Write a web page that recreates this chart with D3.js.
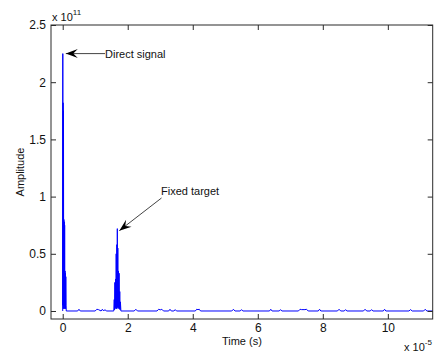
<!DOCTYPE html>
<html>
<head>
<meta charset="utf-8">
<script src="https://cdn.jsdelivr.net/npm/d3@7/dist/d3.min.js"></script>
<style>
  html, body { margin: 0; padding: 0; background: #fff; }
  svg { display: block; font-family: "Liberation Sans", Arial, sans-serif; }
</style>
</head>
<body>
<svg id="chart" width="436" height="352"></svg>
<script>
// Time in units of 1e-5 s, amplitude in units of 1e11
const directTime = [0, 0.003, 0.006, 0.012, 0.018, 0.024, 0.030, 0.036, 0.042, 0.048, 0.054, 0.060, 0.066, 0.072, 0.078, 0.084, 0.090, 0.096, 0.102, 0.110];
const directAmp  = [0, 2.25, 0.05, 1.82, 0.02, 1.75, 0.05, 0.8, 0.02, 0.78, 0.05, 0.75, 0.02, 0.35, 0.05, 0.33, 0.02, 0.3, 0.05, 0];

const targetTime = [1.57, 1.585, 1.595, 1.605, 1.615, 1.625, 1.635, 1.645, 1.655, 1.665, 1.675, 1.68, 1.685, 1.695, 1.705, 1.715, 1.725, 1.735, 1.745, 1.755, 1.765, 1.775, 1.79];
const targetAmp  = [0, 0.1, 0.01, 0.25, 0.02, 0.28, 0.03, 0.5, 0.02, 0.58, 0.05, 0.72, 0.03, 0.55, 0.02, 0.35, 0.03, 0.33, 0.02, 0.17, 0.01, 0.08, 0];

const clutterTime = [0.46, 0.5, 0.54, 1.0, 1.05, 1.1, 1.18, 1.22, 1.26, 1.3, 1.34, 2.2, 2.25, 2.3,
  2.9, 2.95, 3.0, 3.05, 3.1, 3.26, 3.3, 3.34, 3.42, 3.46, 3.5, 4.08, 4.12, 4.16, 4.2, 4.24,
  5.2, 5.25, 5.3, 5.46, 5.5, 5.54, 6.36, 6.4, 6.44, 6.66, 6.7, 6.74, 7.25, 7.3, 7.35, 7.45, 7.5, 7.55,
  7.86, 7.9, 7.94, 8.45, 8.5, 8.55, 8.66, 8.7, 8.74, 9.25, 9.3, 9.35, 9.46, 9.5, 9.54,
  9.86, 9.9, 9.94, 10.65, 10.7, 10.75, 11.1, 11.15, 11.2, 11.5];
const clutterAmp  = [0, 0.015, 0, 0, 0.015, 0.012, 0, 0.015, 0, 0.012, 0, 0, 0.015, 0,
  0, 0.015, 0.01, 0.015, 0, 0, 0.015, 0, 0, 0.012, 0, 0, 0.015, 0.012, 0.015, 0,
  0, 0.015, 0, 0, 0.012, 0, 0, 0.015, 0, 0, 0.012, 0, 0, 0.015, 0.012, 0.012, 0.015, 0,
  0, 0.015, 0, 0, 0.015, 0, 0, 0.012, 0, 0, 0.015, 0, 0, 0.012, 0,
  0, 0.015, 0, 0, 0.012, 0, 0, 0.015, 0, 0];

const xTicks = [0, 2, 4, 6, 8, 10];
const yTicks = [0, 0.5, 1, 1.5, 2, 2.5];

const svg = d3.select("#chart");
const plotLeft = 51, plotRight = 432.7, plotTop = 25, plotBottom = 319;

const x = d3.scaleLinear().domain([-0.36, 11.38]).range([plotLeft, plotRight]);
const y = d3.scaleLinear().domain([-0.07, 2.5]).range([plotBottom, plotTop]);

const axisColor = "#2a2a2a";

// Clip region for the data line
svg.append("defs").append("clipPath").attr("id", "plotClip")
  .append("rect").attr("x", plotLeft).attr("y", plotTop)
  .attr("width", plotRight - plotLeft).attr("height", plotBottom - plotTop);

// Signal trace
const points = [];
directTime.forEach((t, i) => points.push([t, directAmp[i]]));
targetTime.forEach((t, i) => points.push([t, targetAmp[i]]));
clutterTime.forEach((t, i) => points.push([t, clutterAmp[i]]));
points.sort((a, b) => a[0] - b[0]);

const line = d3.line().x(d => x(d[0])).y(d => y(d[1]));
svg.append("path")
  .attr("clip-path", "url(#plotClip)")
  .attr("d", line(points))
  .attr("fill", "none")
  .attr("stroke", "#0000ff")
  .attr("stroke-width", 1);

// Axes with inward ticks on all four sides
const fmt = d => String(d);
const tickStyle = g => {
  g.select(".domain").remove();
  g.selectAll(".tick line").attr("stroke", axisColor);
  g.selectAll(".tick text").attr("fill", "#111").style("font-size", "12px")
    .style("font-family", "'Liberation Sans', Arial, sans-serif");
};

svg.append("g").attr("transform", `translate(0,${plotBottom})`)
  .call(d3.axisBottom(x).tickValues(xTicks).tickFormat(fmt).tickSizeInner(-5).tickSizeOuter(0).tickPadding(4))
  .call(tickStyle);
svg.append("g").attr("transform", `translate(0,${plotTop})`)
  .call(d3.axisTop(x).tickValues(xTicks).tickFormat("").tickSizeInner(-5).tickSizeOuter(0))
  .call(tickStyle);
svg.append("g").attr("transform", `translate(${plotLeft},0)`)
  .call(d3.axisLeft(y).tickValues(yTicks).tickFormat(fmt).tickSizeInner(-5).tickSizeOuter(0).tickPadding(5))
  .call(tickStyle);
svg.append("g").attr("transform", `translate(${plotRight},0)`)
  .call(d3.axisRight(y).tickValues(yTicks).tickFormat("").tickSizeInner(-5).tickSizeOuter(0))
  .call(tickStyle);

// Axes box
svg.append("rect")
  .attr("x", plotLeft).attr("y", plotTop)
  .attr("width", plotRight - plotLeft).attr("height", plotBottom - plotTop)
  .attr("fill", "none").attr("stroke", axisColor).attr("stroke-width", 1);

// Exponent multipliers
const yExp = svg.append("text").attr("x", 52).attr("y", 21).attr("fill", "#111").style("font-size", "11px");
yExp.append("tspan").text("x 10");
yExp.append("tspan").attr("dy", -6).style("font-size", "8px").text("11");

const xExp = svg.append("text").attr("x", 404).attr("y", 351).attr("fill", "#111").style("font-size", "11px");
xExp.append("tspan").text("x 10");
xExp.append("tspan").attr("dy", -6).style("font-size", "8px").text("-5");

// Axis titles
svg.append("text")
  .attr("x", (plotLeft + plotRight) / 2).attr("y", 345)
  .attr("text-anchor", "middle").attr("fill", "#111").style("font-size", "11px")
  .text("Time (s)");
svg.append("text")
  .attr("transform", `translate(24,${(plotTop + plotBottom) / 2}) rotate(-90)`)
  .attr("text-anchor", "middle").attr("fill", "#111").style("font-size", "11px")
  .text("Amplitude");

// Annotations: arrows pointing at the two peaks
function arrow(x1, y1, x2, y2) {
  const g = svg.append("g");
  g.append("line").attr("x1", x1).attr("y1", y1).attr("x2", x2).attr("y2", y2)
    .attr("stroke", "#444").attr("stroke-width", 1);
  const ang = Math.atan2(y2 - y1, x2 - x1) * 180 / Math.PI;
  g.append("path")
    .attr("transform", `translate(${x2},${y2}) rotate(${ang})`)
    .attr("d", "M0,0 L-12,-4.5 L-7.5,0 L-12,4.5 Z")
    .attr("fill", "#000");
}

const directPeak = d3.max(directAmp);
const targetPeak = d3.max(targetAmp);
const directPeakT = directTime[directAmp.indexOf(directPeak)];
const targetPeakT = targetTime[targetAmp.indexOf(targetPeak)];

arrow(105, y(directPeak), x(directPeakT) + 3, y(directPeak));
svg.append("text").attr("x", 105).attr("y", y(directPeak) + 4)
  .attr("fill", "#111").style("font-size", "11px").text("Direct signal");

arrow(161.5, 198, x(targetPeakT) + 2, y(targetPeak) + 2);
svg.append("text").attr("x", 161).attr("y", 195)
  .attr("fill", "#111").style("font-size", "11px").text("Fixed target");
</script>
</body>
</html>
